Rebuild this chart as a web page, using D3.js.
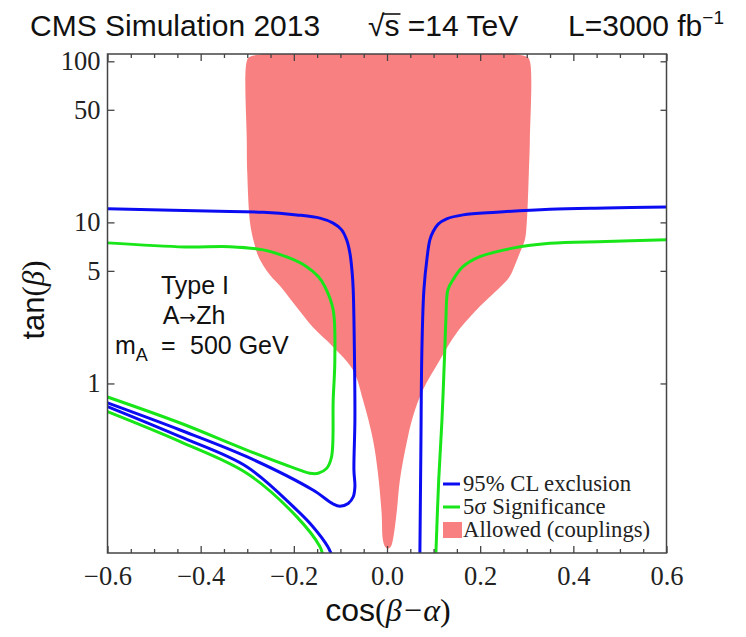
<!DOCTYPE html>
<html>
<head>
<meta charset="utf-8">
<script src="https://cdn.jsdelivr.net/npm/d3@7"></script>
<style>
  body { margin: 0; background: #fff; }
</style>
</head>
<body>
<div id="container"></div>
<script>
/* DATA */

// tick values
const xTicksMajor = [-0.6, -0.4, -0.2, 0.0, 0.2, 0.4, 0.6];
const xTicksMinor = [-0.55, -0.5, -0.45, -0.35, -0.3, -0.25, -0.15, -0.1, -0.05,
                     0.05, 0.1, 0.15, 0.25, 0.3, 0.35, 0.45, 0.5, 0.55];
const yTicks = [1, 5, 10, 50, 100];
const yTickLabels = ["1", "5", "10", "50", "100"];

// allowed region (couplings): left edge top -> bottom, then right edge bottom -> top
const allowedCos = [-0.294, -0.301, -0.301, -0.300, -0.294, -0.286, -0.276, -0.2663, -0.2513, -0.2277,
                    -0.195, -0.160, -0.116, -0.073, -0.0515, -0.030, -0.0195, -0.0116, -0.0088, -0.004,
                    0.002,
                    0.008, 0.0126, 0.0206, 0.0277, 0.0421, 0.0556, 0.077, 0.1135, 0.1494, 0.199,
                    0.2137, 0.262, 0.2737, 0.2835, 0.296, 0.300, 0.3045, 0.3067, 0.3067, 0.300];
const allowedTan = [106.7, 100, 32, 20.3, 9.93, 7.6, 6.13, 5.44, 4.72, 3.97,
                    3.0, 2.25, 1.69, 1.213, 0.79, 0.446, 0.278, 0.157, 0.1067, 0.097,
                    0.0945,
                    0.097, 0.1067, 0.157, 0.252, 0.427, 0.622, 0.911, 1.40, 2.06, 3.00,
                    3.30, 4.55, 5.35, 6.3, 7.79, 9.93, 20.3, 32.5, 100, 106.7];

// 95% CL exclusion (blue)
const blueLeftCos = [-0.6, -0.337, -0.2657, -0.194, -0.144, -0.1155, -0.0974, -0.0867, -0.0796, -0.0747,
                     -0.0725, -0.070, -0.0689, -0.071, -0.0689, -0.0725, -0.0833, -0.101, -0.1155, -0.159,
                     -0.301, -0.444, -0.6];
const blueLeftTan = [12.13, 11.67, 11.57, 11.13, 10.62, 9.89, 8.98, 7.79, 6.44, 4.84,
                     3.81, 1.61, 0.593, 0.29, 0.229, 0.198, 0.180, 0.173, 0.1785, 0.218,
                     0.351, 0.514, 0.757];
const blueLowCos = [-0.6, -0.444, -0.301, -0.194, -0.159, -0.127, -0.118];
const blueLowTan = [0.718, 0.467, 0.304, 0.164, 0.129, 0.0969, 0.085];
const blueRightCos = [0.6, 0.47, 0.3496, 0.2352, 0.1635, 0.128, 0.1099, 0.0991, 0.092, 0.0863,
                      0.0792, 0.0749, 0.0727, 0.0706];
const blueRightTan = [12.48, 12.3, 12.08, 11.57, 11.13, 10.51, 9.75, 8.77, 7.79, 6.13,
                      3.81, 1.61, 0.386, 0.0885];

// 5 sigma significance (green)
const greenLeftCos = [-0.6, -0.434, -0.337, -0.2657, -0.2084, -0.1725, -0.1476, -0.1333, -0.1155, -0.112,
                      -0.1155, -0.119, -0.1296, -0.1476, -0.1655, -0.187, -0.301, -0.444, -0.6];
const greenLeftTan = [7.46, 7.04, 7.07, 6.75, 5.99, 5.31, 4.61, 3.99, 2.86, 1.40,
                      0.79, 0.351, 0.297, 0.277, 0.277, 0.290, 0.386, 0.568, 0.824];
const greenLowCos = [-0.6, -0.444, -0.301, -0.194, -0.144, -0.1375];
const greenLowTan = [0.668, 0.435, 0.277, 0.149, 0.097, 0.085];
const greenRightCos = [0.6, 0.47, 0.3496, 0.270, 0.1993, 0.163, 0.1414, 0.1307, 0.1264, 0.124,
                       0.118, 0.111, 0.105];
const greenRightTan = [7.79, 7.6, 7.42, 6.92, 6.13, 5.31, 4.39, 3.81, 2.48, 1.61,
                       0.593, 0.252, 0.0885];

/* CONSTANTS */
const W = 746, H = 637;
const margin = {top: 54, right: 79.5, bottom: 84, left: 107.5},
      width = W - margin.left - margin.right,
      height = H - margin.top - margin.bottom;

const blue = "#0c0cf2", green = "#19e619", pink = "#f98080";
const serif = "'Liberation Serif', 'Times New Roman', serif";
const sans = "'Liberation Sans', Arial, sans-serif";

/* SCALES */
const xScale = d3.scaleLinear().domain([-0.6, 0.6]).range([0, width]);
const yScale = d3.scaleLog().domain([0.0886, 111]).range([height, 0]);

/* SVG */
const root = d3.select("#container").append("svg")
  .attr("width", W).attr("height", H);

const svg = root.append("g")
  .attr("transform", "translate(" + margin.left + "," + margin.top + ")");

svg.append("clipPath").attr("id", "plotclip")
  .append("rect").attr("width", width).attr("height", height);

const plot = svg.append("g").attr("clip-path", "url(#plotclip)");

const zip = (xs, ys) => xs.map((v, i) => [v, ys[i]]);

// allowed region
plot.append("path")
  .datum(zip(allowedCos, allowedTan))
  .attr("fill", pink)
  .attr("d", d3.line()
    .x(d => xScale(d[0])).y(d => yScale(d[1]))
    .curve(d3.curveCatmullRomClosed.alpha(0.5)));

// contour lines
const line = d3.line()
  .x(d => xScale(d[0])).y(d => yScale(d[1]))
  .curve(d3.curveCatmullRom.alpha(0.5));

const curves = [
  {pts: zip(greenLeftCos, greenLeftTan), c: green},
  {pts: zip(greenLowCos, greenLowTan), c: green},
  {pts: zip(greenRightCos, greenRightTan), c: green},
  {pts: zip(blueLeftCos, blueLeftTan), c: blue},
  {pts: zip(blueLowCos, blueLowTan), c: blue},
  {pts: zip(blueRightCos, blueRightTan), c: blue}
];

plot.selectAll("path.curve")
  .data(curves)
  .join("path")
  .attr("class", "curve")
  .attr("fill", "none")
  .attr("stroke", d => d.c)
  .attr("stroke-width", 3)
  .attr("d", d => line(d.pts));

/* AXES */
const frameColor = "#444";

function styleAxis(g) {
  g.select(".domain").remove();
  g.selectAll(".tick line").attr("stroke", frameColor).attr("stroke-width", 1.3);
  g.selectAll("text")
    .attr("fill", "#222")
    .style("font-family", serif)
    .style("font-size", "26.5px");
}

const fmt = d3.format(".1f");

svg.append("g")
  .attr("transform", "translate(0," + height + ")")
  .call(d3.axisBottom(xScale).tickValues(xTicksMinor).tickSize(-4).tickFormat(""))
  .call(styleAxis);

svg.append("g")
  .attr("transform", "translate(0," + height + ")")
  .call(d3.axisBottom(xScale).tickValues(xTicksMajor).tickSize(-7).tickPadding(13).tickFormat(fmt))
  .call(styleAxis);

svg.append("g")
  .call(d3.axisTop(xScale).tickValues(xTicksMinor).tickSize(-4).tickFormat(""))
  .call(styleAxis);

svg.append("g")
  .call(d3.axisTop(xScale).tickValues(xTicksMajor).tickSize(-7).tickFormat(""))
  .call(styleAxis);

svg.append("g")
  .call(d3.axisLeft(yScale).tickValues(yTicks).tickSize(-7).tickPadding(7)
    .tickFormat((d, i) => yTickLabels[i]))
  .call(styleAxis);

svg.append("g")
  .attr("transform", "translate(" + width + ",0)")
  .call(d3.axisRight(yScale).tickValues(yTicks).tickSize(-6).tickFormat(""))
  .call(styleAxis);

// frame
svg.append("rect")
  .attr("width", width).attr("height", height)
  .attr("fill", "none")
  .attr("stroke", frameColor)
  .attr("stroke-width", 1.5);

/* AXIS TITLES */
const xTitle = root.append("text")
  .attr("x", 388).attr("y", 621)
  .attr("text-anchor", "middle")
  .attr("fill", "#111")
  .style("font-size", "32px");
xTitle.append("tspan").style("font-family", sans).text("cos");
xTitle.append("tspan").style("font-family", serif).text("(");
xTitle.append("tspan").style("font-family", serif).style("font-style", "italic").text("β−α");
xTitle.append("tspan").style("font-family", serif).text(")");

const yTitle = root.append("text")
  .attr("transform", "translate(44,300) rotate(-90)")
  .attr("text-anchor", "middle")
  .attr("fill", "#111")
  .style("font-size", "31px");
yTitle.append("tspan").style("font-family", sans).text("tan");
yTitle.append("tspan").style("font-family", serif).text("(");
yTitle.append("tspan").style("font-family", serif).style("font-style", "italic").text("β");
yTitle.append("tspan").style("font-family", serif).text(")");

/* HEADER */
const header = root.append("g").attr("fill", "#111")
  .style("font-family", sans).style("font-size", "30px");

header.append("text").attr("x", 30).attr("y", 36).text("CMS Simulation 2013");

const sqrtText = header.append("text").attr("x", 368).attr("y", 36);
sqrtText.append("tspan").text("√");
sqrtText.append("tspan").text("s");
sqrtText.append("tspan").text(" =14 TeV");

const lumi = header.append("text").attr("x", 568).attr("y", 36);
lumi.append("tspan").text("L=3000 fb");
lumi.append("tspan").attr("dy", -12).style("font-size", "19px").text("−1");

// overline of the square root over "s"
const sExt = sqrtText.node().getExtentOfChar(1);
const rExt = sqrtText.node().getExtentOfChar(0);
header.append("line")
  .attr("x1", rExt.x + rExt.width - 2).attr("x2", sExt.x + sExt.width + 1)
  .attr("y1", 14).attr("y2", 14)
  .attr("stroke", "#111").attr("stroke-width", 1.6);

/* ANNOTATION */
const note = root.append("g").attr("fill", "#111")
  .style("font-family", sans).style("font-size", "25px");
note.append("text").attr("x", 195).attr("y", 294).attr("text-anchor", "middle").text("Type I");
const az = note.append("text").attr("x", 194).attr("y", 324).attr("text-anchor", "middle");
az.append("tspan").text("A");
az.append("tspan").style("font-family", "'DejaVu Sans', sans-serif").style("font-size", "20px").text("→");
az.append("tspan").text("Zh");
const mA = note.append("text").attr("x", 115).attr("y", 354);
mA.append("tspan").text("m");
mA.append("tspan").attr("dy", 7).style("font-size", "18px").text("A");
mA.append("tspan").attr("x", 161).attr("dy", -7).text("=");
mA.append("tspan").attr("x", 190).text("500 GeV");

/* LEGEND */
const legendItems = [
  {label: "95% CL exclusion", c: blue, type: "line", y: 484},
  {label: "5σ Significance", c: green, type: "line", y: 507},
  {label: "Allowed (couplings)", c: pink, type: "box", y: 530}
];

const legend = root.append("g");
legendItems.forEach(d => {
  if (d.type === "line") {
    legend.append("line")
      .attr("x1", 443).attr("x2", 460)
      .attr("y1", d.y).attr("y2", d.y)
      .attr("stroke", d.c).attr("stroke-width", 3);
  } else {
    legend.append("rect")
      .attr("x", 443).attr("y", d.y - 8)
      .attr("width", 19).attr("height", 16)
      .attr("fill", d.c);
  }
  legend.append("text")
    .attr("x", 463).attr("y", d.y + 7)
    .attr("fill", "#222")
    .style("font-family", serif)
    .style("font-size", "22.7px")
    .text(d.label);
});
</script>
</body>
</html>
